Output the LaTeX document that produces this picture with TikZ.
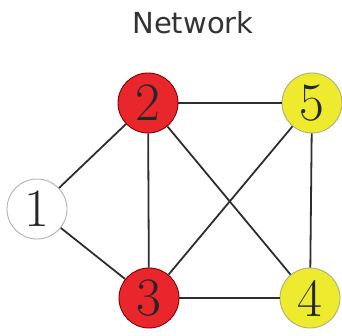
\documentclass[tikz,border=0pt]{standalone}
\usepackage{fontspec}
\newfontfamily\titlefont{DejaVu Sans}
\definecolor{nred}{HTML}{E8262B}
\definecolor{nyellow}{HTML}{EEEA2E}
\definecolor{edge}{HTML}{2E2E2E}
\begin{document}
\begin{tikzpicture}[x=1pt,y=-1pt,
  vert/.style={circle,draw=#1,line width=0.9pt,minimum size=60pt,inner sep=0pt,font=\fontsize{54}{54}\selectfont,text=black!85},
  link/.style={draw=edge,line width=1.8pt}]
\useasboundingbox (0,0) rectangle (342,335);
\node[anchor=base,text=black!80,font=\titlefont\fontsize{29}{29}\selectfont] (title) at (193,33) {Network};
\node[vert=gray!60,fill=white] (n1) at (37,209) {1};
\node[vert=red!50!black,fill=nred] (n2) at (148,103) {2};
\node[vert=gray!70!yellow,fill=nyellow] (n5) at (312,103) {5};
\node[vert=red!50!black,fill=nred] (n3) at (149,298) {3};
\node[vert=gray!70!yellow,fill=nyellow] (n4) at (310,298) {4};
\path[link] (n1) -- (n2);
\path[link] (n1) -- (n3);
\path[link] (n2) -- (n3);
\path[link] (n2) -- (n5);
\path[link] (n2) -- (n4);
\path[link] (n3) -- (n5);
\path[link] (n3) -- (n4);
\path[link] (n5) -- (n4);
\end{tikzpicture}
\end{document}
